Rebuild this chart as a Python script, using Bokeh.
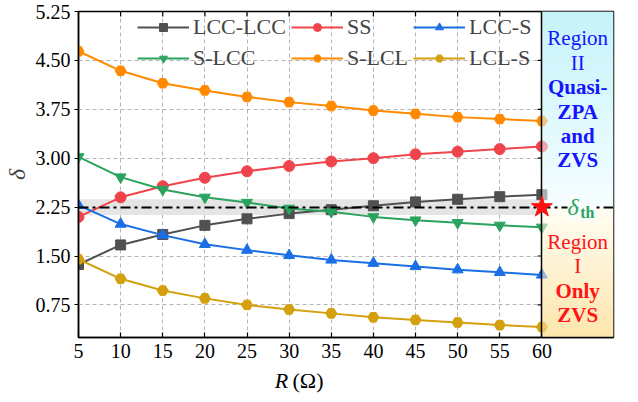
from bokeh.plotting import figure
from bokeh.layouts import column
from bokeh.models import FixedTicker, Label, NumeralTickFormatter
from bokeh.core.properties import value
from bokeh.embed import file_html
from bokeh.resources import INLINE
import numpy as np

# ---------------- data ----------------
R_OHM = [5, 10, 15, 20, 25, 30, 35, 40, 45, 50, 55, 60]
LCC_LCC = [1.37, 1.67, 1.83, 1.97, 2.07, 2.15, 2.21, 2.27, 2.33, 2.37, 2.41, 2.44]
SS = [2.10, 2.40, 2.57, 2.70, 2.80, 2.88, 2.95, 3.00, 3.06, 3.10, 3.14, 3.18]
LCC_S = [2.28, 1.99, 1.82, 1.68, 1.59, 1.51, 1.44, 1.39, 1.34, 1.29, 1.25, 1.21]
S_LCC = [3.02, 2.71, 2.52, 2.40, 2.32, 2.23, 2.18, 2.10, 2.05, 2.01, 1.97, 1.94]
S_LCL = [4.64, 4.34, 4.15, 4.04, 3.94, 3.86, 3.80, 3.73, 3.68, 3.63, 3.60, 3.57]
LCL_S = [1.45, 1.15, 0.97, 0.85, 0.75, 0.68, 0.62, 0.56, 0.52, 0.48, 0.44, 0.41]

SERIES_NAMES = ["LCC-LCC", "SS", "LCC-S", "S-LCC", "S-LCL", "LCL-S"]
SERIES_VALUES = [LCC_LCC, SS, LCC_S, S_LCC, S_LCL, LCL_S]

X_TICKS = [5, 10, 15, 20, 25, 30, 35, 40, 45, 50, 55, 60]
Y_TICKS = [0.75, 1.50, 2.25, 3.00, 3.75, 4.50, 5.25]

DELTA_TH = 2.25
BAND_HALF = 0.12

UPPER_TEXT = ["Region", "II"]
UPPER_BOLD = ["Quasi-", "ZPA", "and", "ZVS"]
LOWER_TEXT = ["Region", "I"]
LOWER_BOLD = ["Only", "ZVS"]
XLABEL_VAR = "R"
XLABEL_UNIT = "(Ω)"

# ---------------- styles ----------------
COLORS = ["#505050", "#f0444c", "#1a6fe6", "#2aa35f", "#ff8a00", "#d4a00e"]
MARKERS = ["square", "circle", "triangle", "inverted_triangle", "hex", "hex"]
FONT = "Liberation Serif"

X_START, X_END = 5, 68.5
PANEL_L = 60
PANEL_C = (PANEL_L + X_END) / 2
Y_START, Y_END = 0.25, 5.25

W = 630
ML, MR = 73, 17

p = figure(width=W, height=366, x_range=(X_START, X_END), y_range=(Y_START, Y_END),
           output_backend="svg", toolbar_location=None,
           min_border_left=ML, min_border_right=MR, min_border_top=11, min_border_bottom=29)
p.background_fill_color = "white"
p.border_fill_color = "white"
p.outline_line_color = "black"
p.outline_line_width = 1.5

# axes
p.xaxis.ticker = FixedTicker(ticks=X_TICKS)
p.yaxis.ticker = FixedTicker(ticks=Y_TICKS)
p.yaxis.formatter = NumeralTickFormatter(format="0.00")
for ax in (p.xaxis[0], p.yaxis[0]):
    ax.axis_line_color = "black"
    ax.axis_line_width = 1.5
    ax.major_tick_line_color = "black"
    ax.major_tick_line_width = 1.2
    ax.minor_tick_line_color = None
    ax.major_label_text_font = FONT
    ax.major_label_text_font_size = "20px"
    ax.major_label_text_color = "black"
p.xaxis.major_tick_in = 5
p.xaxis.major_tick_out = 0
p.xaxis.major_label_standoff = 6
p.yaxis.major_tick_in = 0
p.yaxis.major_tick_out = 4
p.yaxis.major_label_standoff = 4
p.yaxis.axis_label = "δ"
p.yaxis.axis_label_text_font = FONT
p.yaxis.axis_label_text_font_style = "italic"
p.yaxis.axis_label_text_font_size = "24px"
p.yaxis.axis_label_standoff = 3

# grid
p.xgrid.ticker = FixedTicker(ticks=X_TICKS[1:-1])
p.ygrid.ticker = FixedTicker(ticks=Y_TICKS[:-1])
p.grid.grid_line_color = "#b4b4b4"
p.grid.grid_line_dash = "4 3"
p.grid.grid_line_width = 1

# threshold band
p.quad(left=X_START, right=PANEL_L, bottom=DELTA_TH - BAND_HALF, top=DELTA_TH + BAND_HALF,
       fill_color="#e0e0e0", fill_alpha=0.85, line_color=None)

# panel gradient strips
def lerp(c1, c2, t):
    return "#%02x%02x%02x" % tuple(int(round(a + (b - a) * t)) for a, b in zip(c1, c2))

NSTRIP = 16
up_edges = np.linspace(DELTA_TH, Y_END, NSTRIP + 1)
lo_edges = np.linspace(Y_START, DELTA_TH, NSTRIP + 1)
up_cols = [lerp((246, 254, 255), (196, 243, 250), (i + 0.5) / NSTRIP) for i in range(NSTRIP)]
lo_cols = [lerp((253, 229, 172), (255, 253, 244), (i + 0.5) / NSTRIP) for i in range(NSTRIP)]
strip_b = list(up_edges[:-1]) + list(lo_edges[:-1])
strip_t = list(up_edges[1:]) + list(lo_edges[1:])
strip_c = up_cols + lo_cols


def draw_panel(alpha):
    p.quad(left=PANEL_L, right=X_END, bottom=strip_b, top=strip_t,
           fill_color=strip_c, fill_alpha=alpha, line_color=None)


draw_panel(1.0)

# series
for name, vals, col, mk in zip(SERIES_NAMES, SERIES_VALUES, COLORS, MARKERS):
    p.line(R_OHM, vals, line_color=col, line_width=2, legend_label=name)
    p.scatter(R_OHM, vals, marker=mk, size=11 if mk != "square" else 10,
              fill_color=col, line_color=col, legend_label=name)

draw_panel(0.55)

# panel divider and mirrored ticks
p.vspan(x=[PANEL_L], line_color="black", line_width=1.5)
TICK_DX = 0.5
TICK_DY = 0.075
p.segment(x0=[PANEL_L - TICK_DX] * len(Y_TICKS[:-1]), x1=[PANEL_L] * len(Y_TICKS[:-1]),
          y0=Y_TICKS[:-1], y1=Y_TICKS[:-1], line_color="black", line_width=1.2)
p.segment(x0=X_TICKS[1:-1], x1=X_TICKS[1:-1], y0=[Y_END] * len(X_TICKS[1:-1]),
          y1=[Y_END - TICK_DY] * len(X_TICKS[1:-1]), line_color="black", line_width=1.2)

# threshold line and star
p.hspan(y=[DELTA_TH], line_color="black", line_width=2.2, line_dash="10 4 3 4")
p.scatter([PANEL_L], [DELTA_TH], marker="star", size=22, fill_color="#ff1010", line_color="#ff1010")

# delta_th label
p.add_layout(Label(x=63.7, y=DELTA_TH, text="δ", text_font=FONT, text_font_style="italic",
                   text_font_size="24px", text_color="#2aa35f", text_align="center",
                   text_baseline="middle", background_fill_color="#f8fdfb"))
p.add_layout(Label(x=64.55, y=DELTA_TH - 0.08, text="th", text_font=FONT, text_font_style="bold",
                   text_font_size="16px", text_color="#2aa35f", text_align="left",
                   text_baseline="middle", background_fill_color="#f8fdfb"))

# panel texts
LINE_STEP = 0.375
up_y = [4.84 - i * LINE_STEP for i in range(6)]
lo_y = [1.72 - i * LINE_STEP for i in range(4)]
p.text(x=[PANEL_C] * 2, y=up_y[:2], text=UPPER_TEXT, text_font=value(FONT), text_font_size="21px",
       text_align="center", text_baseline="middle", text_color="#1414ff")
p.text(x=[PANEL_C] * 4, y=up_y[2:], text=UPPER_BOLD, text_font=value(FONT), text_font_size="21px",
       text_font_style="bold", text_align="center", text_baseline="middle", text_color="#1414ff")
p.text(x=[PANEL_C] * 2, y=lo_y[:2], text=LOWER_TEXT, text_font=value(FONT), text_font_size="21px",
       text_align="center", text_baseline="middle", text_color="#ff1414")
p.text(x=[PANEL_C] * 2, y=lo_y[2:], text=LOWER_BOLD, text_font=value(FONT), text_font_size="21px",
       text_font_style="bold", text_align="center", text_baseline="middle", text_color="#ff1414")

# legend
lg = p.legend[0]
lg.orientation = "horizontal"
lg.ncols = 3
lg.location = (59, 266)
lg.background_fill_alpha = 0
lg.border_line_color = None
lg.padding = 0
lg.margin = 0
lg.spacing = 5
lg.glyph_width = 52
lg.glyph_height = 20
lg.label_standoff = 4
lg.label_text_font = FONT
lg.label_text_font_size = "22px"
lg.label_height = 20

# x-axis label strip (separate small figure sharing the x range)
q = figure(width=W, height=28, x_range=p.x_range, y_range=(0, 1),
           output_backend="svg", toolbar_location=None,
           min_border_left=ML, min_border_right=MR, min_border_top=0, min_border_bottom=0)
q.axis.visible = False
q.grid.visible = False
q.outline_line_color = None
q.text(x=[29.9], y=[0.5], text=[XLABEL_VAR], text_font=value(FONT), text_font_style="italic",
       text_font_size="22px", text_align="right", text_baseline="middle", text_color="black")
q.text(x=[30.4], y=[0.5], text=[XLABEL_UNIT], text_font=value(FONT),
       text_font_size="22px", text_align="left", text_baseline="middle", text_color="black")

layout = column(p, q, spacing=0)
open("out.html", "w").write(file_html(layout, INLINE))
